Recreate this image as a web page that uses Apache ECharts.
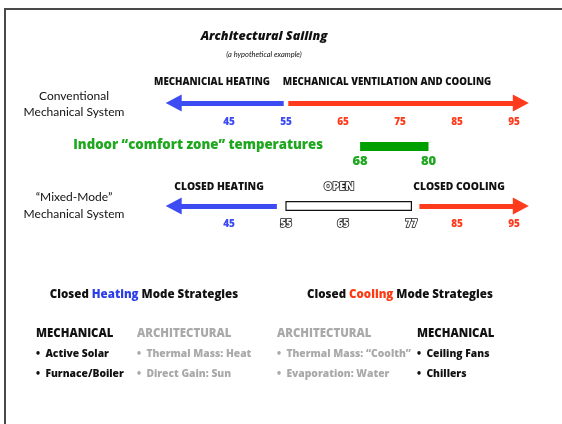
<!DOCTYPE html>
<html>
<head>
<meta charset="utf-8">
<script src="https://cdn.jsdelivr.net/npm/echarts@6/dist/echarts.min.js"></script>
<style>
  html, body { margin: 0; padding: 0; background: #fff; overflow: hidden; }
  #frame { position: absolute; left: 4px; top: 8px; width: 600px; height: 500px;
           border-left: 2px solid #4a4a4a; border-top: 2px solid #4a4a4a; }
  #main { position: absolute; left: 0; top: 0; width: 562px; height: 424px; }
</style>
</head>
<body>
<div id="frame"></div>
<div id="main"></div>
<script>
// temperatures in °F
const convTicks = [45, 55, 65, 75, 85, 95];
const convSplit = 55;                  // heating at or below, cooling above
const convHeatArrow = [54.6, 35.3];    // start, arrowhead
const convCoolArrow = [55.4, 96.2];
const comfortZone = [68, 80];
const mixedTicks = [45, 55, 65, 77, 85, 95];
const openBand = [55, 77];
const mixedHeatArrow = [53.4, 35.3];
const mixedCoolArrow = [78.4, 96.2];

const heatMech = ['Active Solar', 'Furnace/Boiler'];
const heatArch = ['Thermal Mass: Heat', 'Direct Gain: Sun'];
const coolArch = ['Thermal Mass: “Coolth”', 'Evaporation: Water'];
const coolMech = ['Ceiling Fans', 'Chillers'];

const BLUE = '#3d4cf2', RED = '#ff3b1d', GREEN = '#00a000', GREEN_TXT = '#1fa71f', GRAY = '#a9a9a9';
const FONT = 'Open Sans';
const PLAIN = 'Lato';
const HEAVY = 800;

var chart = echarts.init(document.getElementById('main'));

function txt(text, x, cy, size, opts) {
    opts = opts || {};
    var lh = opts.lineHeight || size + 2;
    var lines = text.split('\n').length;
    return {
        text: text, left: x, top: cy - lh * lines / 2,
        textAlign: opts.align || 'center', padding: 0,
        textStyle: Object.assign({
            fontFamily: FONT, fontSize: size, fontWeight: HEAVY, color: '#111', lineHeight: lh
        }, opts.style || {})
    };
}

function column(head, items, color, x) {
    var t = '{hd|' + head + '}';
    items.forEach(function (s) { t += '\n{it|•  ' + s + '}'; });
    return {
        text: t, left: x, top: 324, padding: 0, textAlign: 'left',
        textStyle: {
            rich: {
                hd: { fontFamily: FONT, fontSize: 11.4, fontWeight: HEAVY, color: color, lineHeight: 20 },
                it: { fontFamily: FONT, fontSize: 10.3, fontWeight: HEAVY, color: color, lineHeight: 20 }
            }
        }
    };
}

var outline = { color: '#fff', textBorderColor: '#111', textBorderWidth: 1.5 };
var tickFont = { fontFamily: FONT, fontSize: 10, fontWeight: HEAVY };

function xAx(grid, ticks, fmt, rich, margin) {
    return {
        type: 'value', gridIndex: grid, min: 30, max: 100,
        axisLine: { show: false }, axisTick: { show: false }, splitLine: { show: false },
        axisLabel: { customValues: ticks, margin: margin, formatter: fmt, rich: rich, hideOverlap: false }
    };
}
function yAx(grid) {
    return { type: 'value', gridIndex: grid, min: 0, max: 1, show: false };
}
function arrow(pair, color) {
    return [{ coord: [pair[0], 0.5], lineStyle: { color: color, width: 5, type: 'solid' } },
            { coord: [pair[1], 0.5] }];
}
var markBase = { silent: true, symbol: ['none', 'triangle'], symbolSize: [17, 16], label: { show: false }, emphasis: { disabled: true } };

chart.setOption({
    animation: false,
    title: [
        txt('Architectural Sailing', 264, 36, 12.5, { style: { fontStyle: 'italic' } }),
        txt('(a hypothetical example)', 264, 55, 7.5, { style: { fontFamily: PLAIN, fontStyle: 'italic', fontWeight: 'normal' } }),
        txt('MECHANICIAL HEATING', 212, 82, 9.7),
        txt('MECHANICAL VENTILATION AND COOLING', 387, 82, 9.7),
        txt('Conventional\nMechanical System', 74, 104, 12, { lineHeight: 16, style: { fontFamily: PLAIN, fontWeight: 'normal' } }),
        txt('Indoor “comfort zone” temperatures', 323, 145, 13.2, { align: 'right', style: { color: GREEN_TXT } }),
        txt('CLOSED HEATING', 219, 187, 10.3),
        txt('OPEN', 339, 187, 10.8, { style: outline }),
        txt('CLOSED COOLING', 459, 187, 10.3),
        txt('“Mixed-Mode”\nMechanical System', 74, 206, 12, { lineHeight: 17, style: { fontFamily: PLAIN, fontWeight: 'normal' } }),
        txt('Closed {h|Heating} Mode Strategies', 144, 295, 11.5,
            { style: { rich: { h: { fontFamily: FONT, fontSize: 11.5, fontWeight: HEAVY, color: '#2c3ee8' } } } }),
        txt('Closed {c|Cooling} Mode Strategies', 400, 295, 11.5,
            { style: { rich: { c: { fontFamily: FONT, fontSize: 11.5, fontWeight: HEAVY, color: '#ff3a12' } } } }),
        column('MECHANICAL', heatMech, '#111', 36),
        column('ARCHITECTURAL', heatArch, GRAY, 137),
        column('ARCHITECTURAL', coolArch, GRAY, 277),
        column('MECHANICAL', coolMech, '#111', 417)
    ],
    grid: [
        { left: 143.5, right: 19.5, top: 93, height: 20 },
        { left: 143.5, right: 19.5, top: 142, height: 9 },
        { left: 143.5, right: 19.5, top: 196, height: 20 }
    ],
    xAxis: [
        xAx(0, convTicks, function (v) { return (v <= convSplit ? '{h|' : '{c|') + v + '}'; },
            { h: Object.assign({ color: BLUE }, tickFont), c: Object.assign({ color: RED }, tickFont) }, 4),
        xAx(1, comfortZone, function (v) { return '{g|' + v + '}'; },
            { g: { fontFamily: FONT, fontSize: 13, fontWeight: HEAVY, color: GREEN_TXT } }, 4),
        xAx(2, mixedTicks, function (v) {
                var k = v < openBand[0] ? 'h' : (v > openBand[1] ? 'c' : 'o');
                return '{' + k + '|' + v + '}';
            },
            { h: Object.assign({ color: BLUE }, tickFont), c: Object.assign({ color: RED }, tickFont),
              o: Object.assign({}, tickFont, outline) }, 3)
    ],
    yAxis: [yAx(0), yAx(1), yAx(2)],
    series: [
        {
            type: 'line', xAxisIndex: 0, yAxisIndex: 0, data: [], symbol: 'none',
            markLine: Object.assign({ data: [arrow(convHeatArrow, BLUE), arrow(convCoolArrow, RED)] }, markBase)
        },
        {
            type: 'line', xAxisIndex: 1, yAxisIndex: 1, data: [], symbol: 'none',
            markArea: {
                silent: true, label: { show: false },
                itemStyle: { color: GREEN, opacity: 1, borderWidth: 0 },
                data: [[{ coord: [comfortZone[0], 0] }, { coord: [comfortZone[1], 1] }]]
            }
        },
        {
            type: 'line', xAxisIndex: 2, yAxisIndex: 2, data: [], symbol: 'none',
            markLine: Object.assign({ data: [arrow(mixedHeatArrow, BLUE), arrow(mixedCoolArrow, RED)] }, markBase),
            markArea: {
                silent: true, label: { show: false },
                itemStyle: { color: '#fff', opacity: 1, borderColor: '#111', borderWidth: 1.2 },
                data: [[{ coord: [openBand[0], 0.28] }, { coord: [openBand[1], 0.72] }]]
            }
        }
    ]
});
</script>
</body>
</html>
